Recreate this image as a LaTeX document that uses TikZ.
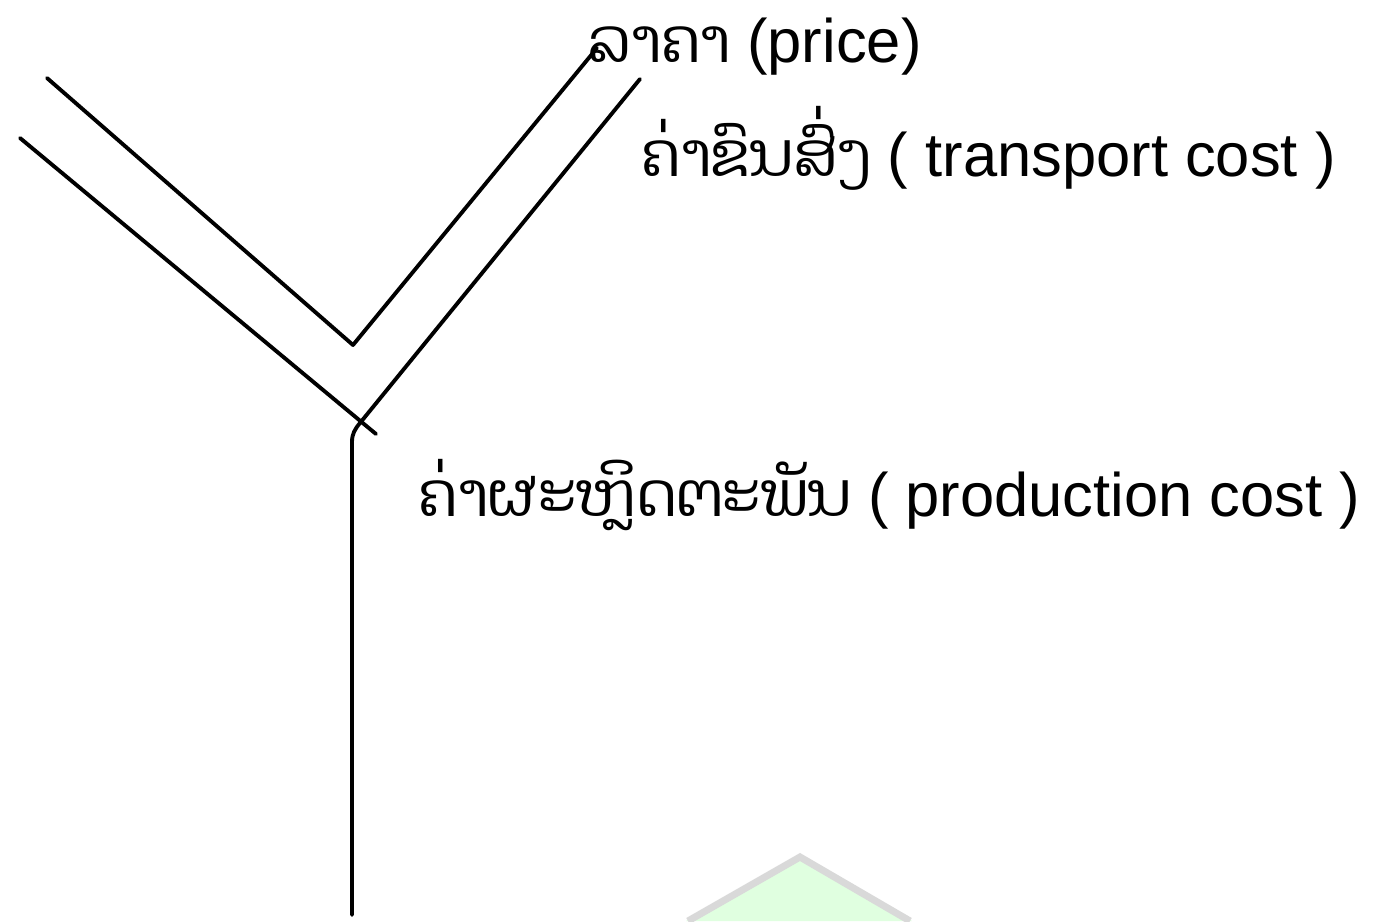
\documentclass[tikz,border=0pt]{standalone}
\usepackage{fontspec}
\setmainfont{Liberation Sans}
\newfontfamily\laofont[Script=Lao]{Dhyana}
\usepackage{tikz}

\begin{document}
\begin{tikzpicture}[x=0.02cm,y=-0.02cm,
        curve/.style={line width=2.2pt, line cap=round, line join=round},
        label/.style={anchor=base west, inner sep=0pt, font=\fontsize{35}{40}\selectfont}]
        \useasboundingbox (0, 0) rectangle (1374, 921);

        % faint mark at the bottom
        \fill[green!12] (800, 857) -- (686, 921) -- (912, 921) -- cycle;
        \draw[gray!30, line width=4pt] (688, 921) -- (800, 857) -- (910, 921);

        \coordinate (pin) at (47, 78);
        \coordinate (pv) at (353, 345);
        \coordinate (pout) at (597, 48);
        \coordinate (tin) at (20, 138);
        \coordinate (tv) at (360, 423);
        \coordinate (tend) at (376, 434);
        \coordinate (tout) at (640, 79);
        \coordinate (ctop) at (352, 442);
        \coordinate (cbot) at (352, 915);

        \node[label] (price) at (588, 62) {{\laofont ລາຄາ} (price)};
        \node[label] (transport) at (641, 176) {{\laofont ຄ່າຂົນສົ່ງ} ( transport cost )};
        \node[label] (production) at (418, 516) {{\laofont ຄ່າຜະຫຼິດຕະພັນ} ( production cost )};

        \draw[curve] (pin) -- (pv) -- (pout);
        \draw[curve] (tin) -- (tend);
        \draw[curve] (tv) -- (tout);
        \draw[curve] (cbot) -- (ctop) to[out=90, in=-130] (tv);
    \end{tikzpicture}
\end{document}
